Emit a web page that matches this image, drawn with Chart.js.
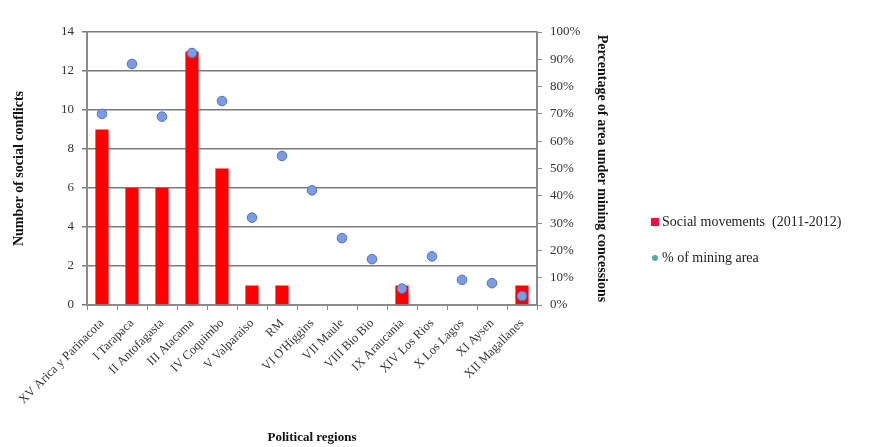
<!DOCTYPE html>
<html>
<head>
<meta charset="utf-8">
<script src="https://cdn.jsdelivr.net/npm/chart.js@4"></script>
<style>
  html, body { margin: 0; padding: 0; background: #ffffff; }
  #wrap { position: relative; width: 876px; height: 447px; }
  #legend { position: absolute; left: 650px; top: 212px; font-family: "Liberation Serif", "DejaVu Serif", serif; font-size: 14px; color: #222; }
  .item { position: relative; height: 20px; line-height: 20px; padding-left: 12px; white-space: nowrap; }
  .item.second { margin-top: 16px; }
  .sw { position: absolute; left: 1px; top: 6px; width: 8px; height: 8px; }
  .sw.bar { background: #ff0a3c; }
  .sw.dot { background: #4fb0a0; border-radius: 50%; width: 6px; height: 6px; top: 7px; left: 2px; }
</style>
</head>
<body>
<div id="wrap">
  <canvas id="chart" width="876" height="447"></canvas>
  <div id="legend">
    <div class="item"><span class="sw bar"></span>Social movements&nbsp; (2011-2012)</div>
    <div class="item second"><span class="sw dot"></span>% of mining area</div>
  </div>
</div>
<script>
// Chilean political regions, north to south
const regions = [
  "XV Arica y Parinacota", "I Tarapaca", "II Antofagasta", "III Atacama",
  "IV Coquimbo", "V Valparaiso", "RM", "VI O'Higgins", "VII Maule",
  "VIII Bio Bio", "IX Araucania", "XIV Los Rios", "X Los Lagos",
  "XI Aysen", "XII Magallanes"
];
// Social conflicts recorded per region (2011-2012)
const socialConflicts = [9, 6, 6, 13, 7, 1, 1, 0, 0, 0, 1, 0, 0, 0, 1];
// Share of regional area under mining concessions (%)
const miningAreaPct = [70, 88.3, 69, 92.3, 74.7, 32, 54.6, 42, 24.5, 16.8, 6, 17.8, 9.2, 8, 3.3];

const serif = "'Liberation Serif', 'DejaVu Serif', serif";
const axisGrey = "#8a8a8a";

new Chart(document.getElementById("chart"), {
  data: {
    labels: regions,
    datasets: [
      {
        type: "bar",
        label: "Social movements (2011-2012)",
        data: socialConflicts,
        yAxisID: "y",
        backgroundColor: "#ff0000",
        borderWidth: 0,
        barPercentage: 0.44,
        categoryPercentage: 1.0,
        order: 2
      },
      {
        type: "line",
        label: "% of mining area",
        data: miningAreaPct,
        yAxisID: "y1",
        showLine: false,
        pointRadius: 4.8,
        pointBackgroundColor: "#7d9be3",
        pointBorderColor: "#4f72c0",
        pointBorderWidth: 1,
        order: 1
      }
    ]
  },
  options: {
    responsive: false,
    animation: false,
    layout: { padding: { left: 6, right: 262, top: 32, bottom: 0 } },
    plugins: { legend: { display: false }, tooltip: { enabled: false } },
    scales: {
      x: {
        offset: true,
        grid: { display: true, drawOnChartArea: false, offset: true, color: axisGrey, lineWidth: 1, tickLength: 5 },
        border: { color: axisGrey, width: 2 },
        ticks: {
          autoSkip: false, maxRotation: 45, minRotation: 45, padding: 6,
          color: "#333", font: { family: serif, size: 12.5 }
        },
        title: { display: true, text: "Political regions", color: "#111", font: { family: serif, size: 13, weight: "bold" }, padding: { top: 0, bottom: 2 } },
        afterFit: (s) => { s.height = 142; }
      },
      y: {
        position: "left",
        min: 0, max: 14,
        ticks: { stepSize: 2, color: "#333", padding: 8, font: { family: serif, size: 13 } },
        grid: { color: "#7a7a7a", lineWidth: 1.5, tickLength: 5 },
        border: { color: axisGrey, width: 2 },
        title: { display: true, text: "Number of social conflicts", color: "#111", font: { family: serif, size: 14, weight: "bold" }, padding: { top: 5, bottom: 6 } },
        afterFit: (s) => { s.width = 81; }
      },
      y1: {
        position: "right",
        min: 0, max: 100,
        ticks: { stepSize: 10, color: "#333", padding: 8, font: { family: serif, size: 13 }, callback: (v) => v + "%" },
        grid: { drawOnChartArea: false, color: axisGrey, lineWidth: 1, tickLength: 5 },
        border: { color: axisGrey, width: 2 },
        title: { display: true, text: "Percentage of area under mining concessions", color: "#111", font: { family: serif, size: 14, weight: "bold" }, padding: { top: 4, bottom: 2 } },
        afterFit: (s) => { s.width = 77; }
      }
    }
  }
});
</script>
</body>
</html>
